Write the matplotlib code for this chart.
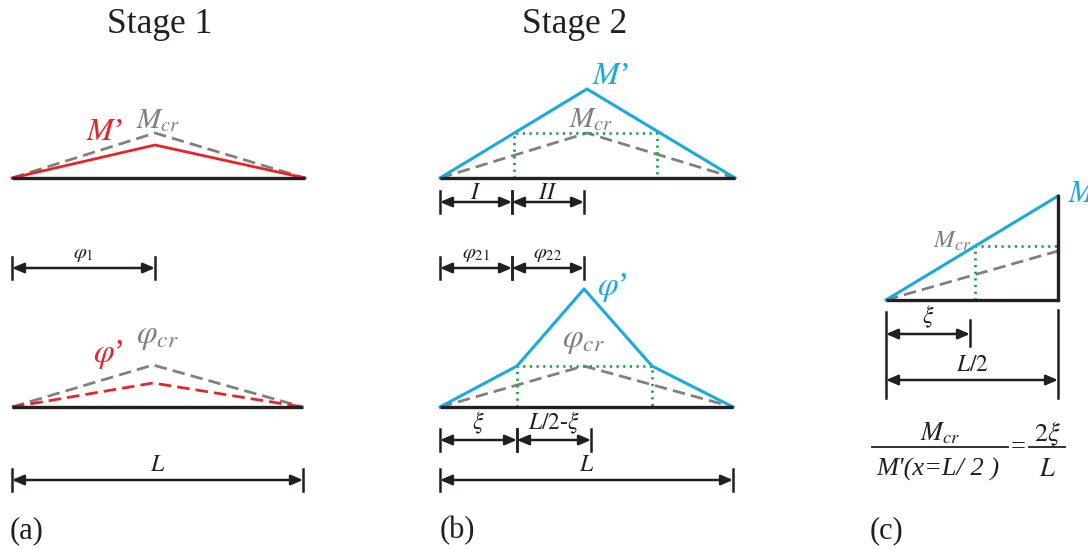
import matplotlib
matplotlib.use("Agg")
import matplotlib.pyplot as plt

plt.rcParams.update({
    "font.family": "Liberation Serif",
    "mathtext.fontset": "stix",
})

BLACK = "#231f20"
GREY = "#808080"
RED = "#e8232a"
BLUE = "#1aa9e1"
GREEN = "#1fa64a"

# ---- panel (a): stage 1, pixel layout (x right, y down) ----
a_beam_x = [12, 305]
a_beam_y = 178
a_mprime_x = [12, 155, 305]
a_mprime_y = [178, 145, 178]
a_mcr_x = [12, 155, 305]
a_mcr_y = [178, 133, 178]
a_rot_beam_x = [12, 303]
a_rot_beam_y = 407
a_phiprime_x = [12, 153, 303]
a_phiprime_y = [407, 383, 407]
a_phicr_x = [12, 153, 303]
a_phicr_y = [407, 365, 407]

# ---- panel (b): stage 2 ----
b_beam_x = [440, 735]
b_beam_y = 178
b_mprime_x = [440, 587, 735]
b_mprime_y = [178, 89, 178]
b_mcr_x = [440, 587, 735]
b_mcr_y = [178, 133, 178]
b_m_green_x = [514, 657]
b_m_green_y = 133
b_rot_beam_x = [440, 733]
b_rot_beam_y = 407
b_phiprime_x = [440, 517, 584, 652, 733]
b_phiprime_y = [407, 366, 289, 366, 407]
b_phicr_x = [440, 584, 733]
b_phicr_y = [407, 366, 407]
b_phi_green_x = [517, 652]
b_phi_green_y = 366

# ---- panel (c): half span ----
c_base_x = [886, 1058]
c_base_y = 300
c_top_y = 196
c_mcr_end_y = 251
c_xi_x = 975

# dimension lines: (x0, x1, y, label, fontsize)
dims = [
    (12, 155, 268, r"$\varphi_{\mathit{1}}$", 15),
    (12, 303, 480, r"$L$", 17),
    (440, 512, 202, r"$I$", 17),
    (512, 584, 202, r"$II$", 17),
    (440, 512, 268, r"$\varphi_{\mathit{21}}$", 15),
    (512, 584, 268, r"$\varphi_{\mathit{22}}$", 15),
    (440, 517, 440, r"$\xi$", 17),
    (517, 591, 440, r"$L/2$-$\xi$", 17),
    (440, 733, 480, r"$L$", 17),
    (886, 970, 334, r"$\xi$", 17),
    (886, 1058, 380, r"$L/2$", 17),
]

fig = plt.figure(figsize=(10.88, 5.49), dpi=100)
ax = fig.add_axes([0, 0, 1, 1])
ax.set_xlim(0, 1088)
ax.set_ylim(549, 0)
ax.axis("off")

dash = dict(color=GREY, lw=2, linestyle=(0, (4.5, 2.2)))
dot = dict(color=GREEN, lw=2, linestyle=(0, (0.8, 1.6)))
arrow = dict(arrowstyle="<|-|>,head_length=0.7,head_width=0.3",
             color=BLACK, lw=1.8, shrinkA=0, shrinkB=0)


def beam(xs, y):
    ax.plot(xs, [y, y], color=BLACK, lw=2.4, solid_capstyle="butt")


def dim_label(x0, x1, y, label, size):
    # roman numerals sit right on the line, the rest clear it
    if "I" in label:
        ax.text((x0 + x1) / 2, y - 3, label, ha="center", va="baseline",
                fontsize=size, color=BLACK)
    else:
        ax.text((x0 + x1) / 2, y - 4, label, ha="center", va="bottom",
                fontsize=size, color=BLACK)


def dim(x0, x1, y, label, size, tick=11):
    ax.annotate("", xy=(x1, y), xytext=(x0, y), arrowprops=arrow)
    for x in (x0, x1):
        ax.plot([x, x], [y - tick, y + tick], color=BLACK, lw=1.8)
    dim_label(x0, x1, y, label, size)


# panel (a)
ax.plot(a_mcr_x, a_mcr_y, **dash)
ax.plot(a_mprime_x, a_mprime_y, color=RED, lw=2)
beam(a_beam_x, a_beam_y)
ax.plot(a_phicr_x, a_phicr_y, **dash)
ax.plot(a_phiprime_x, a_phiprime_y, color=RED, lw=2, linestyle=(0, (4.5, 2.2)))
beam(a_rot_beam_x, a_rot_beam_y)
ax.text(104, 140, r"$M$’", color=RED, fontsize=23, ha="center", va="baseline")
ax.text(158, 128, r"$M_{cr}$", color=GREY, fontsize=21, ha="center", va="baseline")
ax.text(108, 362, r"$\varphi$’", color=RED, fontsize=24, ha="center", va="baseline")
ax.text(157, 343, r"$\varphi_{cr}$", color=GREY, fontsize=24, ha="center", va="baseline")

# panel (b)
ax.plot(b_mcr_x, b_mcr_y, **dash)
ax.plot([b_m_green_x[0], b_m_green_x[0], b_m_green_x[1], b_m_green_x[1]],
        [b_beam_y, b_m_green_y, b_m_green_y, b_beam_y], **dot)
ax.plot(b_mprime_x, b_mprime_y, color=BLUE, lw=2.2)
beam(b_beam_x, b_beam_y)
ax.plot(b_phicr_x, b_phicr_y, **dash)
ax.plot([b_phi_green_x[0], b_phi_green_x[0], b_phi_green_x[1], b_phi_green_x[1]],
        [b_rot_beam_y, b_phi_green_y, b_phi_green_y, b_rot_beam_y], **dot)
ax.plot(b_phiprime_x, b_phiprime_y, color=BLUE, lw=2.2)
beam(b_rot_beam_x, b_rot_beam_y)
ax.text(610, 84, r"$M$’", color=BLUE, fontsize=23, ha="center", va="baseline")
ax.text(591, 127, r"$M_{cr}$", color=GREY, fontsize=21, ha="center", va="baseline")
ax.text(612, 295, r"$\varphi$’", color=BLUE, fontsize=24, ha="center", va="baseline")
ax.text(583, 347, r"$\varphi_{cr}$", color=GREY, fontsize=24, ha="center", va="baseline")

# panel (c)
ax.plot([c_base_x[0], c_base_x[1]], [c_base_y, c_mcr_end_y], **dash)
xi_y = c_base_y - (c_xi_x - c_base_x[0]) / (c_base_x[1] - c_base_x[0]) * (c_base_y - c_top_y)
ax.plot([c_xi_x, c_xi_x, c_base_x[1]], [c_base_y, xi_y, xi_y], **dot)
ax.plot(c_base_x, [c_base_y, c_top_y], color=BLUE, lw=2.2)
beam(c_base_x, c_base_y)
ax.plot([c_base_x[1], c_base_x[1]], [c_top_y, c_base_y], color=BLACK, lw=2.4)
ax.text(1068, 202, r"$M$", color=BLUE, fontsize=22, ha="left", va="baseline")
ax.text(952, 248, r"$M_{cr}$", color=GREY, fontsize=18, ha="center", va="baseline")
ax.plot([c_base_x[0], c_base_x[0]], [312, 398], color=BLACK, lw=1.8)
ax.plot([c_base_x[1], c_base_x[1]], [310, 398], color=BLACK, lw=1.8)

for x0, x1, y, label, size in dims:
    if x0 == c_base_x[0]:
        # panel (c) shares its long end ticks between both dimensions
        ax.annotate("", xy=(x1, y), xytext=(x0, y), arrowprops=arrow)
        if x1 != c_base_x[1]:
            ax.plot([x1, x1], [y - 14, y + 12], color=BLACK, lw=1.8)
        dim_label(x0, x1, y, label, size)
    else:
        dim(x0, x1, y, label, size)

# ratio formula under panel (c)
ax.text(940, 440, r"$M_{cr}$", fontsize=19, ha="center", va="baseline", color=BLACK)
ax.plot([872, 1008], [447, 447], color=BLACK, lw=1.3)
ax.text(938, 476, "M'(x=L/ 2 )", fontsize=19, fontstyle="italic",
        ha="center", va="baseline", color=BLACK)
ax.text(1018, 453, "=", fontsize=19, ha="center", va="baseline", color=BLACK)
ax.text(1047, 441, r"$2\xi$", fontsize=19, ha="center", va="baseline", color=BLACK)
ax.plot([1029, 1065], [447, 447], color=BLACK, lw=1.3)
ax.text(1047, 476, r"$L$", fontsize=19, ha="center", va="baseline", color=BLACK)

# titles and panel tags
ax.text(160, 33, "Stage 1", fontsize=25.5, ha="center", va="baseline", color=BLACK)
ax.text(575, 33, "Stage 2", fontsize=25.5, ha="center", va="baseline", color=BLACK)
for x, tag in [(10, "(a)"), (440, "(b)"), (870, "(c)")]:
    ax.text(x, 538, tag, fontsize=22, ha="left", va="baseline", color=BLACK)

fig.savefig("out.png", dpi=100)
